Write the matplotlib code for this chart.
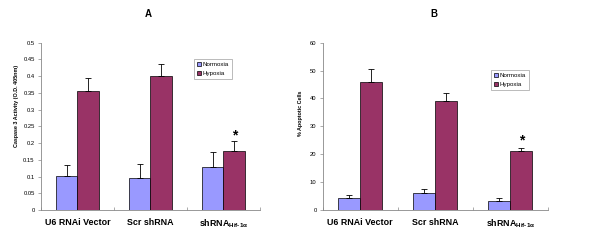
import matplotlib
matplotlib.use("Agg")
import matplotlib.pyplot as plt
import numpy as np

plt.rcParams['font.family'] = ['Liberation Sans', 'DejaVu Sans']
plt.rcParams['mathtext.fontset'] = 'custom'
plt.rcParams['mathtext.rm'] = 'Liberation Sans:bold'
plt.rcParams['mathtext.bf'] = 'Liberation Sans:bold'
plt.rcParams['mathtext.it'] = 'Liberation Sans:bold'

categories = ['U6 RNAi Vector', 'Scr shRNA', r'shRNA$_{\mathrm{Hif\text{-}1\alpha}}$']
series = ['Normoxia', 'Hypoxia']

caspase_norm = [0.103, 0.097, 0.128]
caspase_hyp = [0.357, 0.401, 0.177]
caspase_norm_err = [0.031, 0.040, 0.046]
caspase_hyp_err = [0.038, 0.036, 0.030]
caspase_yticks = [0, 0.05, 0.1, 0.15, 0.2, 0.25, 0.3, 0.35, 0.4, 0.45, 0.5]
caspase_yticklabels = ['0', '0.05', '0.1', '0.15', '0.2', '0.25', '0.3', '0.35', '0.4', '0.45', '0.5']

apop_norm = [4.2, 6.0, 3.2]
apop_hyp = [46.0, 39.0, 21.0]
apop_norm_err = [1.1, 1.5, 1.1]
apop_hyp_err = [4.6, 2.8, 1.1]
apop_yticks = [0, 10, 20, 30, 40, 50, 60]

star_group = 2
caspase_star_y = 0.222
apop_star_y = 25.0

norm_color = '#9999FF'
hyp_color = '#993366'

fig = plt.figure(figsize=(6, 2.4), dpi=100)
axA = fig.add_axes([0.0683, 0.125, 0.365, 0.697])
axB = fig.add_axes([0.538, 0.125, 0.375, 0.697])

def draw(ax, nvals, hvals, nerr, herr, yticks, ylabels, ylim, ylabel, ylabel_pos, star_y, legend_bbox):
    x = np.arange(len(categories))
    w = 0.295
    bn = ax.bar(x - w / 2, nvals, w, color=norm_color, edgecolor='black', linewidth=0.5, label=series[0], zorder=2)
    bh = ax.bar(x + w / 2, hvals, w, color=hyp_color, edgecolor='black', linewidth=0.5, label=series[1], zorder=2)
    ax.errorbar(x - w / 2, nvals, yerr=[np.zeros(len(nvals)), nerr], fmt='none', ecolor='black',
                elinewidth=0.6, capsize=2.5, capthick=0.6, zorder=3)
    ax.errorbar(x + w / 2, hvals, yerr=[np.zeros(len(hvals)), herr], fmt='none', ecolor='black',
                elinewidth=0.6, capsize=2.5, capthick=0.6, zorder=3)
    ax.set_xlim(-0.5, len(categories) - 0.5)
    ax.set_ylim(*ylim)
    ax.set_yticks(yticks)
    ax.set_yticklabels(ylabels, fontsize=4.2)
    ax.set_xticks(x)
    ax.set_xticklabels(categories, fontsize=6.4, fontweight='bold')
    ax.set_xticks(np.arange(len(categories) + 1) - 0.5, minor=True)
    ax.tick_params(axis='x', which='major', length=0, pad=5.5)
    ax.tick_params(axis='x', which='minor', length=2.5, width=0.5, color='#888888', direction='in')
    ax.tick_params(axis='y', length=2.5, width=0.5, color='#888888', pad=2)
    for s in ['top', 'right']:
        ax.spines[s].set_visible(False)
    for s in ['left', 'bottom']:
        ax.spines[s].set_color('#888888')
        ax.spines[s].set_linewidth(0.6)
    ax.set_ylabel(ylabel, fontsize=3.9, fontweight='bold')
    ax.yaxis.set_label_coords(*ylabel_pos)
    ax.text(star_group + w / 2, star_y, '*', ha='center', va='center', fontsize=10, fontweight='bold')
    leg = ax.legend(handles=[bn, bh], loc='upper left', bbox_to_anchor=legend_bbox,
                    bbox_transform=fig.transFigure, fontsize=4.4, frameon=True, fancybox=False,
                    edgecolor='#888888', handlelength=0.6, handleheight=0.7, handletextpad=0.3,
                    borderpad=0.5, labelspacing=0.6, borderaxespad=0)
    leg.get_frame().set_linewidth(0.5)

draw(axA, caspase_norm, caspase_hyp, caspase_norm_err, caspase_hyp_err, caspase_yticks,
     caspase_yticklabels, (0, 0.5), 'Caspase 3 Activity (O.D. 405nm)', (-0.1, 0.62), caspase_star_y,
     (194 / 600, 1 - 59 / 240))
draw(axB, apop_norm, apop_hyp, apop_norm_err, apop_hyp_err, apop_yticks,
     [str(v) for v in apop_yticks], (0, 60), '% Apoptotic Cells', (-0.09, 0.577), apop_star_y,
     (491 / 600, 1 - 70 / 240))

fig.text(148 / 600, 1 - 14 / 240, 'A', ha='center', va='center', fontsize=7, fontweight='bold')
fig.text(434 / 600, 1 - 14 / 240, 'B', ha='center', va='center', fontsize=7, fontweight='bold')

fig.savefig('out.png', dpi=100)
